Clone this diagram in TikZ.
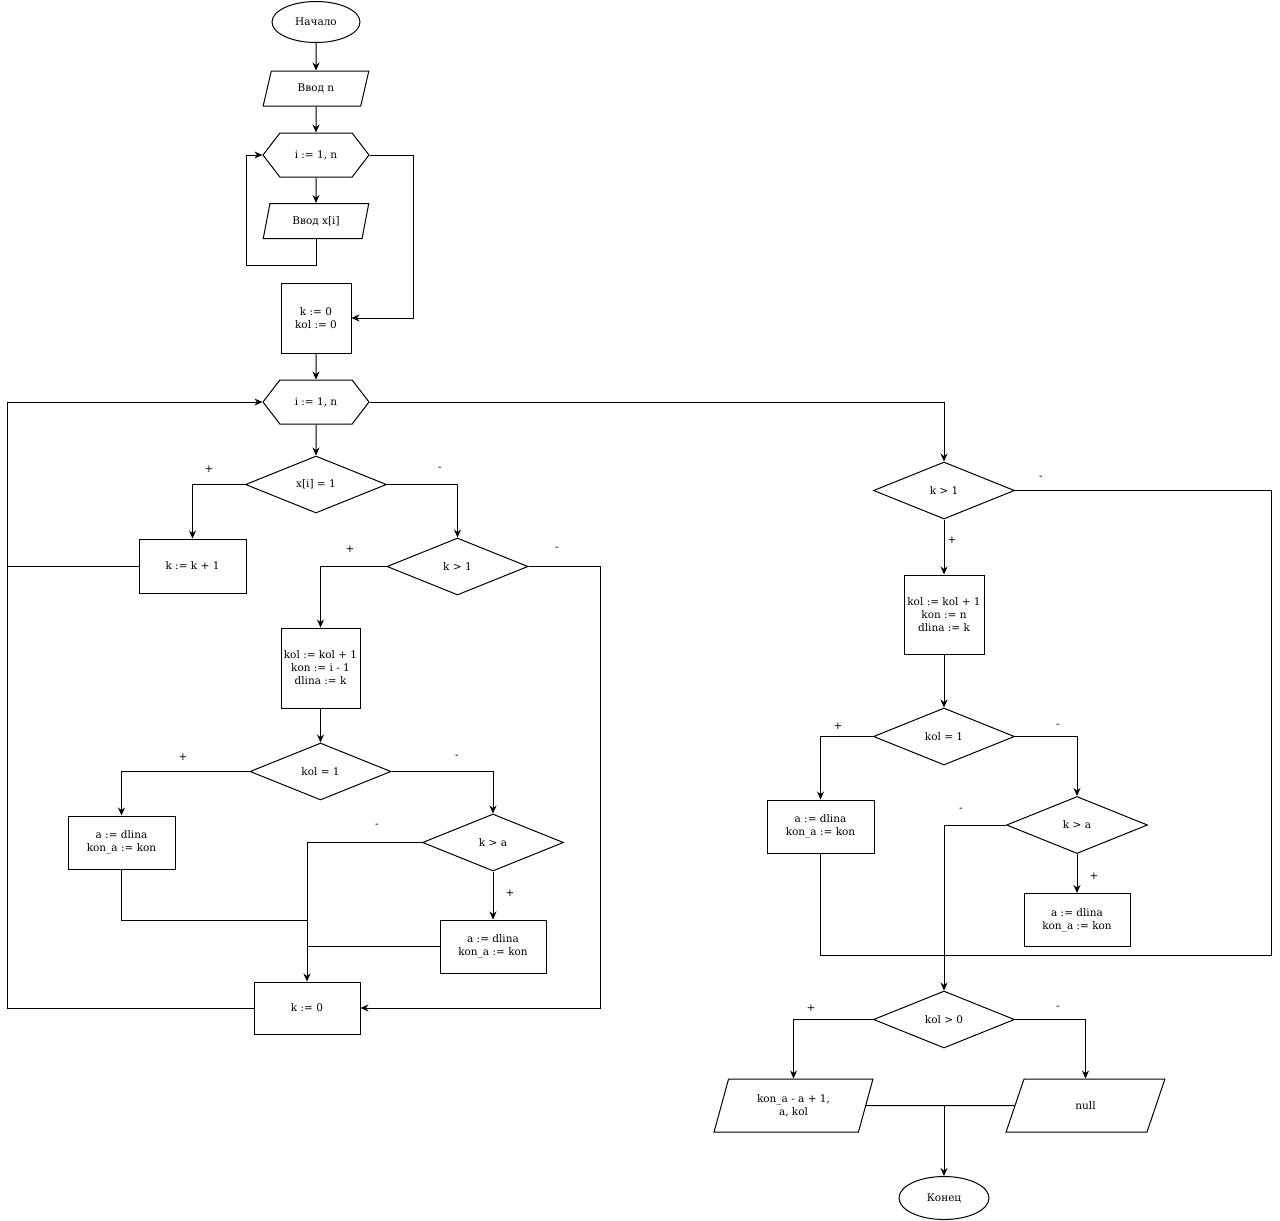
\documentclass[tikz,border=0pt]{standalone}
\usepackage{fontspec}
\setmainfont{DejaVu Serif}
\usepackage{tikz}
\usetikzlibrary{arrows.meta, shapes.geometric, shapes.symbols}
\newcommand{\dgfont}{\fontsize{10.5}{13}\selectfont}
\tikzset{
  base/.style={draw, line width=1pt, font=\dgfont, align=center, inner sep=0pt},
  terminal/.style={base, ellipse, minimum width=88pt, minimum height=41pt},
  io/.style={base, trapezium, trapezium left angle=70, trapezium right angle=110,
    trapezium stretches=true, minimum width=106pt, minimum height=35pt},
  loopbox/.style={base, signal, signal to=west and east, signal pointer angle=105,
    minimum width=106pt, minimum height=44pt},
  proc/.style={base, rectangle},
  cond/.style={base, diamond, minimum width=141pt, minimum height=57pt},
  lbl/.style={font=\dgfont},
  arr/.style={-{Stealth[length=8pt,width=7pt]}, line width=1pt},
  ln/.style={line width=1pt}
}

\begin{document}
\begin{tikzpicture}[x=1pt, y=-1pt]
    \useasboundingbox (0,0) rectangle (1280,1221);
    % input part
    \node[terminal] (start) at (316,22) {Начало};
    \node[io] (inn) at (316,88.5) {Ввод n};
    \node[loopbox] (loopA) at (316,155) {i := 1, n};
    \node[io] (inx) at (316,221) {Ввод x[i]};
    \node[proc, minimum width=70pt, minimum height=70pt] (init) at (316,318) {k := 0\\kol := 0};
    \node[loopbox] (loopB) at (316,402) {i := 1, n};
    % left branch
    \node[cond] (isone) at (316,484.5) {x[i] = 1};
    \node[proc, minimum width=107pt, minimum height=54pt] (inck) at (192.5,566) {k := k + 1};
    \node[cond] (kgtA) at (457.5,566.5) {k > 1};
    \node[proc, minimum width=79pt, minimum height=80pt] (updA) at (320.5,668) {kol := kol + 1\\kon := i - 1\\dlina := k};
    \node[cond] (kolA) at (320.5,771.5) {kol = 1};
    \node[proc, minimum width=107pt, minimum height=53pt] (setA1) at (121.5,842.5) {a := dlina\\kon\_a := kon};
    \node[cond] (kgaA) at (493,842.5) {k > a};
    \node[proc, minimum width=106pt, minimum height=53pt] (setA2) at (493,946.5) {a := dlina\\kon\_a := kon};
    \node[proc, minimum width=106pt, minimum height=52pt] (reset) at (307,1008) {k := 0};
    % right branch
    \node[cond] (kgtB) at (944,490.5) {k > 1};
    \node[proc, minimum width=80pt, minimum height=79pt] (updB) at (944,614.5) {kol := kol + 1\\kon := n\\dlina := k};
    \node[cond] (kolB) at (944,736.5) {kol = 1};
    \node[proc, minimum width=107pt, minimum height=53pt] (setB1) at (820.5,826.5) {a := dlina\\kon\_a := kon};
    \node[cond] (kgaB) at (1077,825) {k > a};
    \node[proc, minimum width=106pt, minimum height=53pt] (setB2) at (1077,920) {a := dlina\\kon\_a := kon};
    \node[cond] (kolpos) at (944,1019.5) {kol > 0};
    \node[io, minimum width=159pt, minimum height=53pt] (outres) at (793.5,1105.5) {kon\_a - a + 1,\\a, kol};
    \node[io, minimum width=159pt, minimum height=53pt] (outnull) at (1085.5,1105.5) {null};
    \node[terminal, minimum width=90pt, minimum height=43pt] (stop) at (944,1198) {Конец};

    % bends
    \coordinate (retA) at (246,265);
    \coordinate (exA) at (413,318);
    \coordinate (rgt) at (600,1008);
    \coordinate (lft) at (7,1008);
    \coordinate (mrgA) at (307,920);
    \coordinate (rgtB) at (1271,955);

    % connectors
    \draw[arr] (start) -- (inn);
    \draw[arr] (inn) -- (loopA);
    \draw[arr] (loopA) -- (inx);
    \draw[arr] (inx.south) |- (retA) |- (loopA.west);
    \draw[arr] (loopA.east) -| (exA) -- (init.east);
    \draw[arr] (init) -- (loopB);
    \draw[arr] (loopB) -- (isone);
    \draw[arr] (isone.west) -| (inck.north);
    \draw[arr] (isone.east) -| (kgtA.north);
    \draw[arr] (kgtA.west) -| (updA.north);
    \draw[arr] (kgtA.east) -| (rgt) -- (reset.east);
    \draw[arr] (updA) -- (kolA);
    \draw[arr] (kolA.west) -| (setA1.north);
    \draw[arr] (kolA.east) -| (kgaA.north);
    \draw[arr] (kgaA.west) -| (reset.north);
    \draw[arr] (kgaA) -- (setA2);
    \draw[ln] (setA1.south) |- (mrgA);
    \draw[ln] (setA2.west) -- (setA2.west -| reset.north);
    \draw[arr] (reset.west) -- (lft) |- (loopB.west);
    \draw[ln] (inck.west) -- (inck.west -| lft);

    \draw[arr] (loopB.east) -| (kgtB.north);
    \draw[arr] (kgtB) -- (updB);
    \draw[arr] (updB) -- (kolB);
    \draw[arr] (kolB.west) -| (setB1.north);
    \draw[arr] (kolB.east) -| (kgaB.north);
    \draw[arr] (kgaB) -- (setB2);
    \draw[arr] (kgaB.west) -| (kolpos.north);
    \draw[ln] (kgtB.east) -| (rgtB) -| (setB1.south);
    \draw[arr] (kolpos.west) -| (outres.north);
    \draw[arr] (kolpos.east) -| (outnull.north);
    \draw[ln] (outres.east) -- (outnull.west);
    \draw[arr] (outres.east -| stop.north) -- (stop.north);

    % branch signs
    \node[lbl] (p1) at (209,469) {+};
    \node[lbl] (m1) at (440,469) {-};
    \node[lbl] (p2) at (350,549) {+};
    \node[lbl] (m2) at (557,549) {-};
    \node[lbl] (p3) at (183,757) {+};
    \node[lbl] (m3) at (457,757) {-};
    \node[lbl] (m4) at (377,826) {-};
    \node[lbl] (p4) at (510,893) {+};
    \node[lbl] (m5) at (1041,478) {-};
    \node[lbl] (p5) at (952,540) {+};
    \node[lbl] (p6) at (838,726) {+};
    \node[lbl] (m6) at (1058,726) {-};
    \node[lbl] (m7) at (961,810) {-};
    \node[lbl] (p7) at (1094,876) {+};
    \node[lbl] (p8) at (811,1008) {+};
    \node[lbl] (m8) at (1058,1008) {-};
\end{tikzpicture}
\end{document}
